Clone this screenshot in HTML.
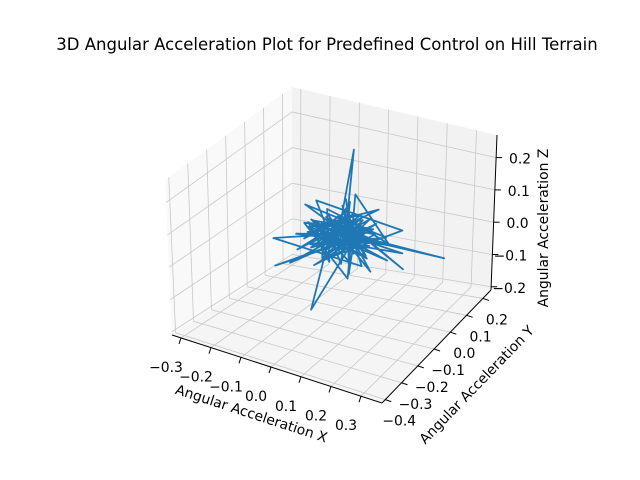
<!DOCTYPE html>
<html><head><meta charset="utf-8"><style>
html,body{margin:0;padding:0;background:#fff}
svg{display:block}
text{font-family:"DejaVu Sans","Liberation Sans",sans-serif;fill:#000}
</style></head><body>
<svg id="chart" width="640" height="480" viewBox="0 0 640 480">
<text x="327" y="50" font-size="16.5" text-anchor="middle">3D Angular Acceleration Plot for Predefined Control on Hill Terrain</text>
<g id="panes"></g><g id="grid"></g><g id="axes"></g><g id="series"></g>
<text transform="translate(250,418) rotate(18)" font-size="13.9" text-anchor="middle">Angular Acceleration X</text>
<text transform="translate(480,388) rotate(-46)" font-size="13.9" text-anchor="middle">Angular Acceleration Y</text>
<text transform="translate(548,228) rotate(-90)" font-size="13.9" text-anchor="middle">Angular Acceleration Z</text>
</svg>
<script>
const xTicks=[-0.3,-0.2,-0.1,0.0,0.1,0.2,0.3];
const yTicks=[-0.4,-0.3,-0.2,-0.1,0.0,0.1,0.2];
const zTicks=[-0.2,-0.1,0.0,0.1,0.2];
const xs=[0.00,-0.08,0.06,-0.05,0.10,-0.25,0.03,0.08,-0.04,0.02,-0.02,0.12,-0.10,0.05,-0.06,0.14,-0.12,0.02,-0.08,0.04,0.10,-0.05,0.16,-0.14,0.06,-0.02,0.09,-0.09,0.30,0.05,-0.11,0.13,-0.03,0.07,-0.15,0.11,-0.04,0.18,-0.07,0.03,-0.12,0.08,0.00,0.15,-0.09,0.06,-0.02,0.12,-0.17,0.04,0.20,-0.06,0.09,-0.22,0.01,
-0.03,-0.07,0.02,-0.10,0.05,-0.04,-0.12,0.01,-0.06,0.08,-0.09,-0.01,-0.13,0.04,-0.05,0.07,-0.08,0.00,-0.11,0.03,-0.02,0.10,-0.07,-0.14,0.02,-0.04,0.06,-0.10,-0.01,0.09,-0.06,-0.03,0.04,-0.12,0.00,-0.08,0.05,-0.05,0.11,-0.09,-0.02,0.03,-0.07,0.07,-0.11,0.01,-0.04,0.06,-0.06,0.13,-0.03,-0.10,0.02,-0.08,0.05,-0.01,0.09,-0.05,0.00,-0.03];
const ys=[0.00,0.05,-0.04,0.08,-0.06,0.02,0.02,-0.10,0.10,0.03,0.00,-0.05,-0.02,0.12,-0.08,0.02,0.06,-0.12,-0.05,0.04,0.08,-0.10,-0.02,0.02,0.06,-0.06,0.00,0.09,0.08,-0.03,-0.08,0.05,0.12,-0.09,0.03,-0.01,0.06,0.04,-0.04,0.10,-0.10,0.02,-0.07,0.09,0.00,-0.11,0.05,-0.07,0.08,-0.02,0.01,0.07,-0.05,-0.02,0.01,
0.04,-0.03,0.07,0.01,-0.05,0.09,-0.02,0.05,-0.08,0.03,0.06,-0.06,0.02,-0.01,0.10,-0.04,0.04,-0.09,0.07,0.00,0.05,-0.03,-0.07,0.03,0.08,-0.05,0.01,0.06,-0.10,0.04,-0.02,0.09,-0.06,0.02,0.05,-0.04,0.07,-0.08,0.00,0.03,-0.05,0.06,0.01,-0.07,0.04,-0.03,0.08,-0.01,0.02,-0.06,0.05,-0.09,0.03,0.07,-0.02,0.00,0.04,-0.04,0.01,0.00];
const zs=[0.00,0.03,-0.02,0.05,-0.04,-0.06,0.01,-0.05,0.06,0.25,-0.02,0.02,-0.03,0.04,0.05,-0.05,-0.01,0.03,-0.21,0.02,-0.03,0.01,0.04,0.06,-0.06,0.08,0.00,-0.04,-0.04,0.03,0.02,-0.02,0.07,-0.07,0.00,0.05,-0.05,-0.03,0.04,-0.01,-0.06,0.06,-0.03,0.01,0.09,-0.02,0.03,0.00,-0.05,0.05,-0.06,0.02,0.04,-0.12,-0.01,
0.02,-0.03,0.04,0.01,-0.04,0.03,-0.02,0.05,-0.01,0.02,0.04,-0.05,0.01,-0.03,0.06,0.00,-0.04,0.03,-0.02,0.05,0.01,-0.03,0.04,-0.01,0.02,-0.05,0.03,0.00,-0.02,0.04,-0.04,0.06,-0.01,0.02,-0.03,0.05,0.00,-0.06,0.03,0.01,-0.02,0.04,-0.04,0.02,-0.01,0.05,-0.03,0.01,0.03,-0.05,0.02,-0.02,0.04,0.00,-0.03,0.03,-0.01,0.02,-0.02,0.00];
const XL=[-0.33,0.37],YL=[-0.42,0.25],ZL=[-0.21,0.27];
const C={"000":[172,335],"100":[382,403],"110":[491,290],"010":[292,258],"001":[165,180],"101":[377,236],"111":[497,135],"011":[292,87]};
function tri(u,v,w){let r=[0,0];for(const a of[0,1])for(const b of[0,1])for(const c of[0,1]){const wt=(a?u:1-u)*(b?v:1-v)*(c?w:1-w);const p=C[""+a+b+c];r[0]+=wt*p[0];r[1]+=wt*p[1];}return r;}
const nx=x=>(x-XL[0])/(XL[1]-XL[0]),ny=y=>(y-YL[0])/(YL[1]-YL[0]),nz=z=>(z-ZL[0])/(ZL[1]-ZL[0]);
function P(x,y,z){return tri(nx(x),ny(y),nz(z));}
const NS="http://www.w3.org/2000/svg";
function mk(t,parent,attrs){const e=document.createElementNS(NS,t);for(const k in attrs)e.setAttribute(k,attrs[k]);document.getElementById(parent).appendChild(e);return e;}
function poly(ks){return ks.map(k=>C[k].join(",")).join(" ");}
let e;
e=mk("polygon","panes",{points:poly(["000","010","011","001"]),fill:"#f9f9f9"});

e=mk("polygon","panes",{points:poly(["010","110","111","011"]),fill:"#f2f2f2"});

e=mk("polygon","panes",{points:poly(["000","100","110","010"]),fill:"#f5f5f5"});

function seg(g,a,b,st,sw,name){const l=mk("line",g,{x1:a[0],y1:a[1],x2:b[0],y2:b[1],stroke:st,"stroke-width":sw});return l;}
const GC="#c8c8c8";
for(const t of xTicks){seg("grid",P(t,YL[0],ZL[0]),P(t,YL[1],ZL[0]),GC,0.8,"x-gridline");seg("grid",P(t,YL[1],ZL[0]),P(t,YL[1],ZL[1]),GC,0.8,"x-gridline");}
for(const t of yTicks){seg("grid",P(XL[0],t,ZL[0]),P(XL[1],t,ZL[0]),GC,0.8,"y-gridline");seg("grid",P(XL[0],t,ZL[0]),P(XL[0],t,ZL[1]),GC,0.8,"y-gridline");}
for(const t of zTicks){seg("grid",P(XL[0],YL[0],t),P(XL[0],YL[1],t),GC,0.8,"z-gridline");seg("grid",P(XL[0],YL[1],t),P(XL[1],YL[1],t),GC,0.8,"z-gridline");}
seg("axes",C["000"],C["100"],"#000",1,"x-axis-line");
seg("axes",C["100"],C["110"],"#000",1,"y-axis-line");
seg("axes",C["110"],C["111"],"#000",1,"z-axis-line");
function txt(x,y,s,anchor,name){const t=mk("text","axes",{x:x,y:y,"font-size":"13.9","text-anchor":anchor});t.textContent=s;}
const fmt=v=>(v<0?"\u2212":"")+Math.abs(v).toFixed(1);
for(const t of xTicks){const p=P(t,YL[0],ZL[0]);seg("axes",p,[p[0]-2,p[1]+6],"#000",1,"x-tick");txt(p[0]-15,p[1]+34,fmt(t),"middle","x-tick-label");}
for(const t of yTicks){const p=P(XL[1],t,ZL[0]);seg("axes",p,[p[0]+6,p[1]+2],"#000",1,"y-tick");txt(p[0]+14,p[1]+26,fmt(t),"middle","y-tick-label");}
for(const t of zTicks){const p=P(XL[1],YL[1],t);seg("axes",p,[p[0]+6,p[1]],"#000",1,"z-tick");txt(p[0]+35,p[1]+6,fmt(t),"end","z-tick-label");}
const pts=xs.map((x,i)=>P(x,ys[i],zs[i]).map(v=>v.toFixed(1)).join(",")).join(" ");
e=mk("polyline","series",{points:pts,fill:"none",stroke:"#1f77b4","stroke-width":1.8,"stroke-linejoin":"round"});


</script>
</body></html>
